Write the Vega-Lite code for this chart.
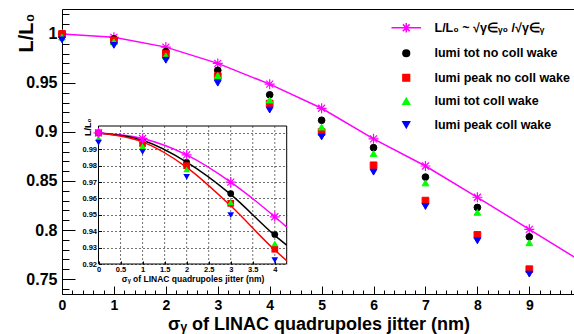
{
  "$schema": "https://vega.github.io/schema/vega-lite/v6.json",
  "width": 513,
  "height": 285,
  "autosize": {"type": "none"},
  "padding": {"left": 62, "top": 9, "right": 0, "bottom": 40},
  "config": {
    "view": {"stroke": "#000", "strokeWidth": 1},
    "font": "Liberation Sans",
    "axis": {"labelFont": "Liberation Sans", "titleFont": "Liberation Sans", "labelColor": "#000", "titleColor": "#000", "tickColor": "#000", "labelFontWeight": "bold", "titleFontWeight": "bold", "domain": false, "grid": false, "labelOverlap": false, "labelFlush": false, "tickCount": 200}
  },
  "datasets": {
    "pts": [
      {"x": 0, "s": "lumi tot no coll wake", "v": 1.0},
      {"x": 1, "s": "lumi tot no coll wake", "v": 0.995},
      {"x": 2, "s": "lumi tot no coll wake", "v": 0.982},
      {"x": 3, "s": "lumi tot no coll wake", "v": 0.963},
      {"x": 4, "s": "lumi tot no coll wake", "v": 0.938},
      {"x": 5, "s": "lumi tot no coll wake", "v": 0.912},
      {"x": 6, "s": "lumi tot no coll wake", "v": 0.884},
      {"x": 7, "s": "lumi tot no coll wake", "v": 0.854},
      {"x": 8, "s": "lumi tot no coll wake", "v": 0.823},
      {"x": 9, "s": "lumi tot no coll wake", "v": 0.793},
      {"x": 0, "s": "lumi peak no coll wake", "v": 1.0},
      {"x": 1, "s": "lumi peak no coll wake", "v": 0.9935},
      {"x": 2, "s": "lumi peak no coll wake", "v": 0.98},
      {"x": 3, "s": "lumi peak no coll wake", "v": 0.957},
      {"x": 4, "s": "lumi peak no coll wake", "v": 0.929},
      {"x": 5, "s": "lumi peak no coll wake", "v": 0.9},
      {"x": 6, "s": "lumi peak no coll wake", "v": 0.866},
      {"x": 7, "s": "lumi peak no coll wake", "v": 0.83},
      {"x": 8, "s": "lumi peak no coll wake", "v": 0.795},
      {"x": 9, "s": "lumi peak no coll wake", "v": 0.76},
      {"x": 0, "s": "lumi tot coll wake", "v": 0.9968},
      {"x": 1, "s": "lumi tot coll wake", "v": 0.992},
      {"x": 2, "s": "lumi tot coll wake", "v": 0.9777},
      {"x": 3, "s": "lumi tot coll wake", "v": 0.9576},
      {"x": 4, "s": "lumi tot coll wake", "v": 0.9326},
      {"x": 5, "s": "lumi tot coll wake", "v": 0.905},
      {"x": 6, "s": "lumi tot coll wake", "v": 0.878},
      {"x": 7, "s": "lumi tot coll wake", "v": 0.848},
      {"x": 8, "s": "lumi tot coll wake", "v": 0.818},
      {"x": 9, "s": "lumi tot coll wake", "v": 0.787},
      {"x": 0, "s": "lumi peak coll wake", "v": 0.994},
      {"x": 1, "s": "lumi peak coll wake", "v": 0.9884},
      {"x": 2, "s": "lumi peak coll wake", "v": 0.9732},
      {"x": 3, "s": "lumi peak coll wake", "v": 0.9498},
      {"x": 4, "s": "lumi peak coll wake", "v": 0.9224},
      {"x": 5, "s": "lumi peak coll wake", "v": 0.895},
      {"x": 6, "s": "lumi peak coll wake", "v": 0.859},
      {"x": 7, "s": "lumi peak coll wake", "v": 0.824},
      {"x": 8, "s": "lumi peak coll wake", "v": 0.789},
      {"x": 9, "s": "lumi peak coll wake", "v": 0.755}
    ],
    "mag": [
      {"x": 0, "v": 1.0},
      {"x": 1, "v": 0.9966},
      {"x": 2, "v": 0.9866},
      {"x": 3, "v": 0.970},
      {"x": 4, "v": 0.9488},
      {"x": 5, "v": 0.9242},
      {"x": 6, "v": 0.893},
      {"x": 7, "v": 0.8653},
      {"x": 8, "v": 0.8334},
      {"x": 9, "v": 0.8007},
      {"x": 10, "v": 0.768}
    ],
    "fits": [
      {"x": 0, "s": "L/L₀ ~ √γ∈ᵧ₀ /√γ∈ᵧ", "v": 1.0},
      {"x": 1, "s": "L/L₀ ~ √γ∈ᵧ₀ /√γ∈ᵧ", "v": 0.9966},
      {"x": 2, "s": "L/L₀ ~ √γ∈ᵧ₀ /√γ∈ᵧ", "v": 0.9866},
      {"x": 3, "s": "L/L₀ ~ √γ∈ᵧ₀ /√γ∈ᵧ", "v": 0.970},
      {"x": 4, "s": "L/L₀ ~ √γ∈ᵧ₀ /√γ∈ᵧ", "v": 0.9488},
      {"x": 4.27, "s": "L/L₀ ~ √γ∈ᵧ₀ /√γ∈ᵧ", "v": 0.9425},
      {"x": 0, "s": "lumi tot no coll wake", "v": 1.0},
      {"x": 1, "s": "lumi tot no coll wake", "v": 0.9955},
      {"x": 2, "s": "lumi tot no coll wake", "v": 0.9822},
      {"x": 3, "s": "lumi tot no coll wake", "v": 0.9625},
      {"x": 4, "s": "lumi tot no coll wake", "v": 0.9375},
      {"x": 4.27, "s": "lumi tot no coll wake", "v": 0.9315},
      {"x": 0, "s": "lumi peak no coll wake", "v": 1.0},
      {"x": 1, "s": "lumi peak no coll wake", "v": 0.9945},
      {"x": 2, "s": "lumi peak no coll wake", "v": 0.979},
      {"x": 3, "s": "lumi peak no coll wake", "v": 0.9555},
      {"x": 4, "s": "lumi peak no coll wake", "v": 0.9285},
      {"x": 4.27, "s": "lumi peak no coll wake", "v": 0.922}
    ],
    "gridx": [{"g": 0.5}, {"g": 1}, {"g": 1.5}, {"g": 2}, {"g": 2.5}, {"g": 3}, {"g": 3.5}, {"g": 4}]
  },
  "layer": [
    {
      "layer": [
        {
          "data": {"name": "mag"},
          "mark": {"type": "line", "color": "#ff00ff", "strokeWidth": 1.5, "clip": true},
          "encoding": {
            "x": {"field": "x", "type": "quantitative", "scale": {"domain": [0, 9.88], "nice": false, "zero": false},
              "axis": {
                "values": [0,0.2,0.4,0.6,0.8,1,1.2,1.4,1.6,1.8,2,2.2,2.4,2.6,2.8,3,3.2,3.4,3.6,3.8,4,4.2,4.4,4.6,4.8,5,5.2,5.4,5.6,5.8,6,6.2,6.4,6.6,6.8,7,7.2,7.4,7.6,7.8,8,8.2,8.4,8.6,8.8,9,9.2,9.4,9.6,9.8],
                "tickCount": 200,
                "labelExpr": "abs(datum.value - round(datum.value)) < 0.001 ? format(datum.value, 'd') : ''",
                "tickSize": {"condition": {"test": "abs(datum.value - round(datum.value)) < 0.001", "value": -8}, "value": -4},
                "labelPadding": 12,
                "labelFontSize": 14,
                "labelOverlap": false,
                "title": "σᵧ of LINAC quadrupoles jitter (nm)",
                "titleFontSize": 18,
                "titleBaseline": "alphabetic",
                "titleY": 35
              }},
            "y": {"field": "v", "type": "quantitative", "scale": {"domain": [0.7347, 1.0255], "nice": false, "zero": false},
              "axis": {
                "values": [0.74,0.75,0.76,0.77,0.78,0.79,0.8,0.81,0.82,0.83,0.84,0.85,0.86,0.87,0.88,0.89,0.9,0.91,0.92,0.93,0.94,0.95,0.96,0.97,0.98,0.99,1,1.01,1.02],
                "tickCount": 200,
                "labelExpr": "abs(datum.value*20 - round(datum.value*20)) < 0.001 ? format(datum.value, '~g') : ''",
                "tickSize": {"condition": {"test": "abs(datum.value*20 - round(datum.value*20)) < 0.001", "value": -13}, "value": -7},
                "labelPadding": 18,
                "labelFontSize": 16,
                "labelOverlap": false,
                "title": "L/L₀",
                "titleFontSize": 20,
                "titleAngle": 270,
                "titleAlign": "right",
                "titleBaseline": "alphabetic",
                "titleX": -30,
                "titleY": 4
              }}
          }
        },
        {
          "data": {"name": "mag"},
          "mark": {"type": "point", "shape": "M-1,0L1,0M0,-1L0,1M-0.7,-0.7L0.7,0.7M-0.7,0.7L0.7,-0.7", "size": 100, "filled": false, "color": "#ff00ff", "strokeWidth": 1.2, "opacity": 1, "clip": true},
          "encoding": {
            "x": {"field": "x", "type": "quantitative"},
            "y": {"field": "v", "type": "quantitative"}
          }
        },
        {
          "data": {"name": "pts"},
          "mark": {"type": "point", "filled": true, "size": 45, "strokeWidth": 1, "opacity": 1},
          "encoding": {
            "x": {"field": "x", "type": "quantitative"},
            "y": {"field": "v", "type": "quantitative"},
            "color": {"field": "s", "type": "nominal",
              "scale": {"domain": ["L/L₀ ~ √γ∈ᵧ₀ /√γ∈ᵧ", "lumi tot no coll wake", "lumi peak no coll wake", "lumi tot coll wake", "lumi peak coll wake"], "range": ["#ff00ff", "#000000", "#ff0000", "#00ff00", "#0000ff"]},
              "legend": {"title": null, "orient": "none", "legendX": 338, "legendY": 12.5, "padding": 0, "symbolSize": 45, "symbolStrokeWidth": 1.5, "labelFont": "Liberation Sans", "labelFontWeight": "bold", "labelFontSize": 12.5, "labelColor": "#000", "labelOffset": 22, "rowPadding": 10.5, "labelLimit": 300}},
            "stroke": {"field": "s", "type": "nominal",
              "scale": {"domain": ["L/L₀ ~ √γ∈ᵧ₀ /√γ∈ᵧ", "lumi tot no coll wake", "lumi peak no coll wake", "lumi tot coll wake", "lumi peak coll wake"], "range": ["#ff00ff", "#000000", "#ff0000", "#00ff00", "#0000ff"]},
              "legend": {"title": null, "orient": "none", "legendX": 338, "legendY": 12.5, "padding": 0, "symbolSize": 45, "symbolStrokeWidth": 1.5, "labelFont": "Liberation Sans", "labelFontWeight": "bold", "labelFontSize": 12.5, "labelColor": "#000", "labelOffset": 22, "rowPadding": 10.5, "labelLimit": 300}},
            "shape": {"field": "s", "type": "nominal",
              "scale": {"domain": ["L/L₀ ~ √γ∈ᵧ₀ /√γ∈ᵧ", "lumi tot no coll wake", "lumi peak no coll wake", "lumi tot coll wake", "lumi peak coll wake"], "range": ["M-4.4,0L4.4,0M-1.4,0L1.4,0M0,-1.4L0,1.4M-1,-1L1,1M-1,1L1,-1", "circle", "square", "triangle-up", "triangle-down"]},
              "legend": {"title": null, "orient": "none", "legendX": 338, "legendY": 12.5, "padding": 0, "symbolSize": 45, "symbolStrokeWidth": 1.5, "labelFont": "Liberation Sans", "labelFontWeight": "bold", "labelFontSize": 12.5, "labelColor": "#000", "labelOffset": 22, "rowPadding": 10.5, "labelLimit": 300}}
          }
        }
      ]
    },
    {
      "layer": [
        {
          "data": {"values": [{}]},
          "mark": {"type": "rect", "filled": false, "stroke": "#000", "strokeWidth": 1},
          "encoding": {
            "x": {"datum": 0, "type": "quantitative", "scale": {"domain": [0, 4.27], "range": [36.5, 224.7], "nice": false, "zero": false},
              "axis": {
                "orient": "bottom", "offset": -30,
                "values": [0,0.5,1,1.5,2,2.5,3,3.5,4],
                "tickCount": 200,
                "labelExpr": "format(datum.value, '~g')",
                "tickSize": -3, "labelPadding": 4, "labelFontSize": 7.5, "labelOverlap": false,
                "grid": false,
                "title": "σᵧ of LINAC quadrupoles jitter (nm)", "titleFontSize": 8.5, "titlePadding": 2
              }},
            "x2": {"datum": 4.27},
            "y": {"datum": 0.92, "type": "quantitative", "scale": {"domain": [0.92, 1.0042], "range": [255, 117], "nice": false, "zero": false},
              "axis": {
                "orient": "left", "offset": -36.5,
                "values": [0.92,0.93,0.94,0.95,0.96,0.97,0.98,0.99,1],
                "tickCount": 200,
                "labelExpr": "datum.value < 0.995 ? format(datum.value, '.2f') : ''",
                "tickSize": -3, "labelPadding": 5, "labelFontSize": 7.5, "labelOverlap": false,
                "grid": true, "gridDash": [2, 2], "gridColor": "#000", "gridOpacity": 0.7, "gridWidth": 0.8,
                "title": "L/L₀", "titleFontSize": 9, "titleAngle": 270, "titleAlign": "right", "titleBaseline": "alphabetic", "titleX": -8.5, "titleY": 109
              }},
            "y2": {"datum": 1.0042}
          }
        },
        {
          "data": {"name": "gridx"},
          "mark": {"type": "rule", "color": "#000", "opacity": 0.7, "strokeWidth": 0.8, "strokeDash": [2, 2]},
          "encoding": {
            "x": {"field": "g", "type": "quantitative"},
            "y": {"datum": 0.92, "type": "quantitative"},
            "y2": {"datum": 1.0042}
          }
        },
        {
          "data": {"name": "fits"},
          "mark": {"type": "line", "strokeWidth": 1.5, "interpolate": "monotone", "clip": true},
          "encoding": {
            "x": {"field": "x", "type": "quantitative"},
            "y": {"field": "v", "type": "quantitative"},
            "detail": {"field": "s"},
            "stroke": {"field": "s", "type": "nominal",
              "scale": {"domain": ["L/L₀ ~ √γ∈ᵧ₀ /√γ∈ᵧ", "lumi tot no coll wake", "lumi peak no coll wake", "lumi tot coll wake", "lumi peak coll wake"], "range": ["#ff00ff", "#000000", "#ff0000", "#00ff00", "#0000ff"]},
              "legend": null}
          }
        },
        {
          "data": {"name": "pts"},
          "transform": [{"filter": "datum.x <= 4"}],
          "mark": {"type": "point", "filled": true, "size": 45, "strokeWidth": 1, "opacity": 1},
          "encoding": {
            "x": {"field": "x", "type": "quantitative"},
            "y": {"field": "v", "type": "quantitative"},
            "color": {"field": "s", "type": "nominal",
              "scale": {"domain": ["L/L₀ ~ √γ∈ᵧ₀ /√γ∈ᵧ", "lumi tot no coll wake", "lumi peak no coll wake", "lumi tot coll wake", "lumi peak coll wake"], "range": ["#ff00ff", "#000000", "#ff0000", "#00ff00", "#0000ff"]},
              "legend": null},
            "shape": {"field": "s", "type": "nominal",
              "scale": {"domain": ["L/L₀ ~ √γ∈ᵧ₀ /√γ∈ᵧ", "lumi tot no coll wake", "lumi peak no coll wake", "lumi tot coll wake", "lumi peak coll wake"], "range": ["M-4.4,0L4.4,0M-1.4,0L1.4,0M0,-1.4L0,1.4M-1,-1L1,1M-1,1L1,-1", "circle", "square", "triangle-up", "triangle-down"]},
              "legend": null}
          }
        },
        {
          "data": {"name": "mag"},
          "transform": [{"filter": "datum.x <= 4"}],
          "mark": {"type": "point", "shape": "M-1,0L1,0M0,-1L0,1M-0.7,-0.7L0.7,0.7M-0.7,0.7L0.7,-0.7", "size": 100, "filled": false, "color": "#ff00ff", "strokeWidth": 1.2, "opacity": 1},
          "encoding": {
            "x": {"field": "x", "type": "quantitative"},
            "y": {"field": "v", "type": "quantitative"}
          }
        }
      ]
    }
  ],
  "resolve": {"scale": {"x": "independent", "y": "independent", "color": "independent", "shape": "independent", "stroke": "independent"}, "axis": {"x": "independent", "y": "independent"}, "legend": {"color": "independent", "shape": "independent", "stroke": "independent"}}
}
